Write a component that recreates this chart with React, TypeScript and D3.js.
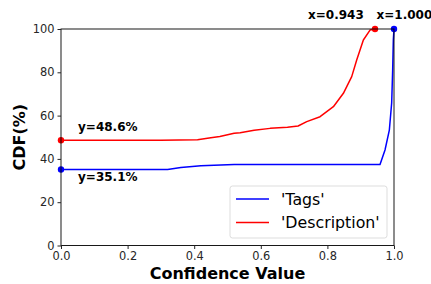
import { useEffect, useRef } from "react"
import * as d3 from "d3"

// CDF of confidence values
const tagsX = [0, 0.32, 0.36, 0.42, 0.52, 0.7, 0.958, 0.973, 0.986, 0.993, 0.996, 0.998, 1.0]
const tagsY = [35.1, 35.1, 36.0, 36.8, 37.4, 37.4, 37.4, 44.1, 53.3, 65.8, 81, 95, 100]

const descX = [0, 0.3, 0.41, 0.45, 0.477, 0.52, 0.538, 0.58, 0.628, 0.68, 0.712, 0.738, 0.778, 0.818, 0.848, 0.873, 0.888, 0.908, 0.928, 0.943]
const descY = [48.6, 48.6, 48.8, 49.8, 50.3, 51.8, 52.1, 53.2, 54.1, 54.6, 55.2, 57.2, 59.5, 64.1, 70.3, 78, 85.7, 94.9, 99.5, 100]

const xTicks = [0, 0.2, 0.4, 0.6, 0.8, 1.0]
const yTicks = [0, 20, 40, 60, 80, 100]
const seriesNames = ["'Tags'", "'Description'"]
const seriesColors = ["blue", "red"]

export default function App() {
    const svgRef = useRef<SVGSVGElement>(null)

    useEffect(() => {
        const svg = d3.select(svgRef.current)
        svg.selectAll("*").remove()
        const margin = { top: 29, left: 61, right: 37, bottom: 38.5 }
        const W = 431, H = 284
        const x = d3.scaleLinear().domain([0, 1]).range([margin.left, W - margin.right])
        const y = d3.scaleLinear().domain([0, 100]).range([H - margin.bottom, margin.top])
        const font = "DejaVu Sans, sans-serif"

        const line = d3.line<[number, number]>().x(d => x(d[0])).y(d => y(d[1]))
        const series: [number, number][][] = [
            tagsX.map((v, i) => [v, tagsY[i]]),
            descX.map((v, i) => [v, descY[i]]),
        ]

        const plot = svg.append("g")
        series.forEach((s, i) => {
            plot.append("path").datum(s)
                .attr("fill", "none").attr("stroke", seriesColors[i])
                .attr("stroke-width", 1.5).attr("stroke-linejoin", "round")
                .attr("d", line)
        })

        // marker dots
        const dots: [number, number, string][] = [
            [0, tagsY[0], "blue"], [0, descY[0], "red"],
            [0.943, 100, "red"], [1.0, 100, "blue"],
        ]
        dots.forEach(([a, b, c]) => {
            svg.append("circle").attr("cx", x(a)).attr("cy", y(b)).attr("r", 3.2).attr("fill", c)
        })

        // frame
        svg.append("rect")
            .attr("x", x(0)).attr("y", y(100))
            .attr("width", x(1) - x(0)).attr("height", y(0) - y(100))
            .attr("fill", "none").attr("stroke", "black").attr("stroke-width", 0.9)

        const xAxis = svg.append("g").attr("transform", `translate(0,${y(0)})`)
            .call(d3.axisBottom(x).tickValues(xTicks).tickFormat(d3.format(".1f")).tickSize(3.5).tickPadding(3))
        const yAxis = svg.append("g").attr("transform", `translate(${x(0)},0)`)
            .call(d3.axisLeft(y).tickValues(yTicks).tickFormat(d3.format("d")).tickSize(3.5).tickPadding(3))
        ;[xAxis, yAxis].forEach(a => {
            a.select(".domain").remove()
            a.selectAll("text").attr("font-family", font).attr("font-size", 11.4).attr("fill", "#262626")
            a.selectAll("line").attr("stroke", "#262626")
        })

        svg.append("text").attr("x", x(0.5)).attr("y", 279)
            .attr("text-anchor", "middle").attr("font-family", font)
            .attr("font-weight", "bold").attr("font-size", 16).text("Confidence Value")
        svg.append("text").attr("transform", `translate(25,${y(50)}) rotate(-90)`)
            .attr("text-anchor", "middle").attr("font-family", font)
            .attr("font-weight", "bold").attr("font-size", 16).text("CDF(%)")

        // annotations
        const notes: [number, number, string][] = [
            [78, 130.5, "y=48.6%"], [78, 181, "y=35.1%"],
            [308, 19, "x=0.943"], [376.5, 19, "x=1.000"],
        ]
        notes.forEach(([a, b, t]) => {
            svg.append("text").attr("x", a).attr("y", b)
                .attr("font-family", font).attr("font-weight", "bold")
                .attr("font-size", 12).attr("fill", "black").text(t)
        })

        // legend
        const lg = svg.append("g")
        lg.append("rect").attr("x", 230).attr("y", 186).attr("width", 157).attr("height", 52)
            .attr("rx", 2.5).attr("fill", "white").attr("fill-opacity", 0.8)
            .attr("stroke", "#d9d9d9").attr("stroke-width", 0.9)
        seriesNames.forEach((n, i) => {
            const ly = 199 + i * 23.5
            lg.append("line").attr("x1", 236).attr("x2", 269).attr("y1", ly).attr("y2", ly)
                .attr("stroke", seriesColors[i]).attr("stroke-width", 1.5)
            lg.append("text").attr("x", 281).attr("y", ly + 5.5)
                .attr("font-family", font).attr("font-size", 15.8).attr("fill", "black").text(n)
        })
    }, [])

    return <svg ref={svgRef} width={431} height={284}
        style={{ position: "absolute", left: 0, top: 0, background: "white" }} />
}
